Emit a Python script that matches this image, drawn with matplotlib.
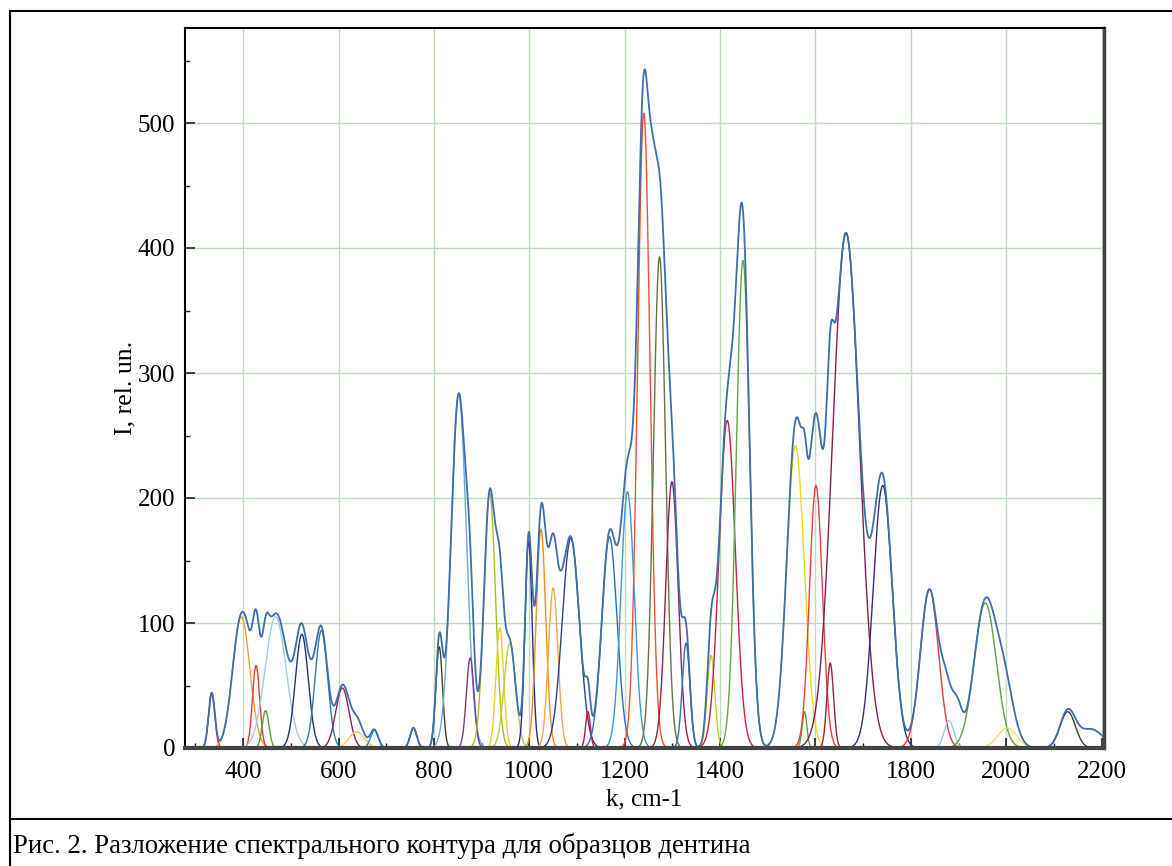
import numpy as np
import matplotlib.pyplot as plt
from matplotlib.lines import Line2D
from matplotlib.ticker import MultipleLocator

# fitted spectral components: position (cm-1), height (rel. un.), width
centers = [334, 396, 427, 447, 468, 523, 564, 608, 638, 675,
           757, 811, 852, 876, 917, 938, 959, 998.5, 1024.5, 1050,
           1087, 1123, 1168, 1206, 1240, 1273, 1299, 1328.6, 1381, 1415,
           1448, 1558, 1577, 1601, 1631, 1664, 1741, 1839, 1880, 1956,
           2002, 2129]
heights = [44, 105, 66, 30, 105, 91, 94, 48, 13, 14,
           16, 81, 283, 72, 204, 96, 84, 166, 175, 128,
           168, 29, 169, 205, 508, 393, 213, 84, 74, 262,
           390, 242, 29, 210, 68, 412, 210, 127, 22, 116,
           16, 29]
widths = [6.5, 18, 7.5, 7, 22, 13.5, 13, 14, 16, 8,
          7, 7, 16, 8, 12, 8, 12, 7.5, 10, 10,
          18, 5, 16, 14, 13, 12.7, 13, 8, 8, 17,
          14, 18.5, 5, 13.5, 7, 28, 20, 19, 10, 23,
          20, 16]
colors = ['#c8143c', '#f0a030', '#e83a30', '#58a030', '#9ccbe8', '#23336e', '#2e78b8', '#8a2458', '#f0d040', '#3a80c0',
          '#404040', '#3c4420', '#6aa8d8', '#7a3a90', '#a8be20', '#e8d020', '#b8d040', '#2a2a80', '#f08c20', '#f0a848',
          '#304080', '#c8143c', '#2070c0', '#3a98d0', '#f05030', '#6a7040', '#902050', '#3070b0', '#c0d030', '#c82040',
          '#60a840', '#f0d820', '#50a040', '#e84040', '#a02040', '#802050', '#303080', '#e83838', '#9ccbe8', '#60a040',
          '#f8e060', '#3c4420']

# bands present only in the measured contour
extra_centers = [410, 443, 495, 545, 640, 1038, 1068, 1258, 1575, 1628, 1870, 1897, 1995, 2178]
extra_heights = [12, 6, 12, 15, 8, 25, 20, 100, 35, 45, 20, 30, 30, 15]
extra_widths = [8, 8, 15, 10, 10, 12, 8, 8, 15, 10, 10, 10, 18, 25]

k = np.linspace(278, 2205, 5000)


def band(c, h, w):
    return h * np.exp(-(k - c) ** 2 / (2.0 * w ** 2))


plt.rcParams['font.family'] = ['Liberation Serif', 'DejaVu Serif']

fig = plt.figure(figsize=(11.72, 8.66), dpi=100)
ax = fig.add_axes([185 / 1172, 1 - 748 / 866, (1104 - 185) / 1172, (748 - 28) / 866])

total = np.zeros_like(k)
for c, h, w, col in zip(centers, heights, widths, colors):
    y = band(c, h, w)
    total += y
    ax.plot(k, y, color=col, lw=1.0)
for c, h, w in zip(extra_centers, extra_heights, extra_widths):
    total += band(c, h, w)
ax.plot(k, total, color='#3f6ea8', lw=1.3)

ax.set_xlim(278, 2205)
ax.set_ylim(0, 576)
ax.xaxis.set_major_locator(MultipleLocator(200))
ax.xaxis.set_minor_locator(MultipleLocator(100))
ax.yaxis.set_major_locator(MultipleLocator(100))
ax.yaxis.set_minor_locator(MultipleLocator(50))
ax.tick_params(which='both', direction='in', top=False, right=False, labelsize=18, color='#222222')
ax.tick_params(which='major', length=7, width=1.2)
ax.tick_params(which='minor', length=3.5, width=1.0)
ax.tick_params(axis='x', pad=9)
ax.tick_params(axis='y', pad=7)
ax.grid(True, which='major', color='#bcdcbc', lw=1.0)
ax.set_axisbelow(True)

ax.spines['bottom'].set_linewidth(3)
ax.spines['bottom'].set_color('#444444')
ax.spines['right'].set_linewidth(2.5)
ax.spines['right'].set_color('#444444')
ax.spines['left'].set_linewidth(1.5)
ax.spines['top'].set_linewidth(1.5)

ax.set_xlabel('k, cm-1', fontsize=18, labelpad=4)
ax.set_ylabel('I, rel. un.', fontsize=18.5, labelpad=1)

# table frame around the figure and caption
fx0 = 10 / 1172
ftop = 1 - 11 / 866
fsep = 1 - 819 / 866
fig.add_artist(Line2D([fx0, fx0], [0, ftop], transform=fig.transFigure, color='black', lw=1.5))
fig.add_artist(Line2D([fx0, 1], [ftop, ftop], transform=fig.transFigure, color='black', lw=1.5))
fig.add_artist(Line2D([fx0, 1], [fsep, fsep], transform=fig.transFigure, color='black', lw=1.5))
fig.text(13 / 1172, 1 - 846 / 866, 'Рис. 2. Разложение спектрального контура для образцов дентина',
         fontsize=19.3, va='center', ha='left')

fig.savefig('out.png', dpi=100)
